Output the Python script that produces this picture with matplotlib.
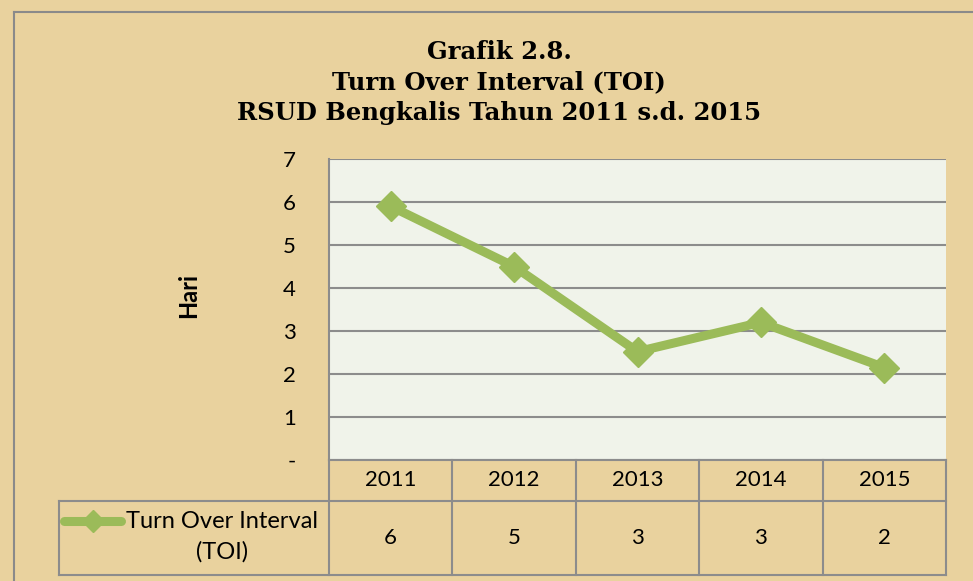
import numpy as np
import matplotlib
matplotlib.use("Agg")
import matplotlib.pyplot as plt
from matplotlib.lines import Line2D

# ---- data ----
years = ["2011", "2012", "2013", "2014", "2015"]
toi = [5.9, 4.5, 2.52, 3.2, 2.15]
yticks = [0, 1, 2, 3, 4, 5, 6, 7]
ytick_labels = ["-", "1", "2", "3", "4", "5", "6", "7"]
series_name = "Turn Over Interval\n(TOI)"
title_lines = ["Grafik 2.8.", "Turn Over Interval (TOI)", "RSUD Bengkalis Tahun 2011 s.d. 2015"]
ylabel = "Hari"

# ---- style ----
W, H = 973, 581
BG = "#E9D29E"
PLOT_BG = "#F0F3EA"
GREEN = "#9BBB59"
GRID = "#8C8C8C"
FONT = "Lato"

fig = plt.figure(figsize=(W / 100, H / 100), dpi=100)
fig.patch.set_facecolor(BG)

def fx(px):
    return px / W

def fy(py):
    return 1 - py / H

# outer chart border (continues past right/bottom edges)
fig.add_artist(Line2D([fx(14), fx(14)], [fy(12), 0], transform=fig.transFigure, color="#8A8A8A", lw=1.5))
fig.add_artist(Line2D([fx(14), 1], [fy(12), fy(12)], transform=fig.transFigure, color="#8A8A8A", lw=1.5))

L, R, T, B = 329, 946, 159, 460
ax = fig.add_axes([fx(L), fy(B), fx(R - L), (B - T) / H])
ax.set_facecolor(PLOT_BG)

n = len(years)
x = np.arange(n)
ax.plot(x, toi, color=GREEN, lw=6.5, marker="D", markersize=15, solid_joinstyle="miter", zorder=3)
ax.set_xlim(-0.5, n - 0.5)
ax.set_ylim(0, 7)
ax.set_yticks(yticks)
ax.set_yticklabels(ytick_labels, fontsize=16, family=FONT)
ax.tick_params(axis="y", length=0, pad=24)
ax.set_xticks([])
ax.yaxis.grid(True, color=GRID, lw=1.5)
ax.set_axisbelow(True)
for s in ["top", "right"]:
    ax.spines[s].set_visible(False)
for s in ["left", "bottom"]:
    ax.spines[s].set_color(GRID)
    ax.spines[s].set_linewidth(1.5)

fig.text(fx(189), fy(296), ylabel, rotation=90, ha="center", va="center",
         fontsize=17, fontweight="bold", family=FONT)

# ---- data table ----
ph = B - T
def ay(py):
    return (B - py) / ph

row1 = ay(501)
row2 = ay(575)
legend_left = -0.5 + (59 - L) / (R - L) * n
kw = dict(color=GRID, lw=1.5, clip_on=False)
tr = ax.get_xaxis_transform()
ax.plot([legend_left, n - 0.5], [row1, row1], transform=tr, **kw)
ax.plot([legend_left, n - 0.5], [row2, row2], transform=tr, **kw)
ax.plot([legend_left, legend_left], [row1, row2], transform=tr, **kw)
for b in np.arange(n + 1) - 0.5:
    ax.plot([b, b], [0, row2], transform=tr, **kw)

for i, (yr, v) in enumerate(zip(years, toi)):
    ax.text(i, ay(480), yr, ha="center", va="center", fontsize=16, family=FONT, transform=tr)
    ax.text(i, ay(538), str(int(np.floor(v + 0.5))), ha="center", va="center", fontsize=16,
            family=FONT, transform=tr)

# legend key in table
fig.add_artist(Line2D([fx(64), fx(121)], [fy(521), fy(521)], transform=fig.transFigure,
                      color=GREEN, lw=6.5, solid_capstyle="round"))
fig.add_artist(Line2D([fx(93)], [fy(521)], transform=fig.transFigure, color=GREEN,
                      marker="D", markersize=11, lw=0))
fig.text(fx(222), fy(537), series_name, ha="center", va="center", fontsize=17,
         family=FONT, linespacing=1.5)

# ---- title ----
for txt, py in zip(title_lines, [52, 82, 113]):
    fig.text(fx(499), fy(py), txt, ha="center", va="center", fontsize=17.5,
             fontweight="bold", family="DejaVu Serif")

fig.savefig("out.png", dpi=100, facecolor=BG)
